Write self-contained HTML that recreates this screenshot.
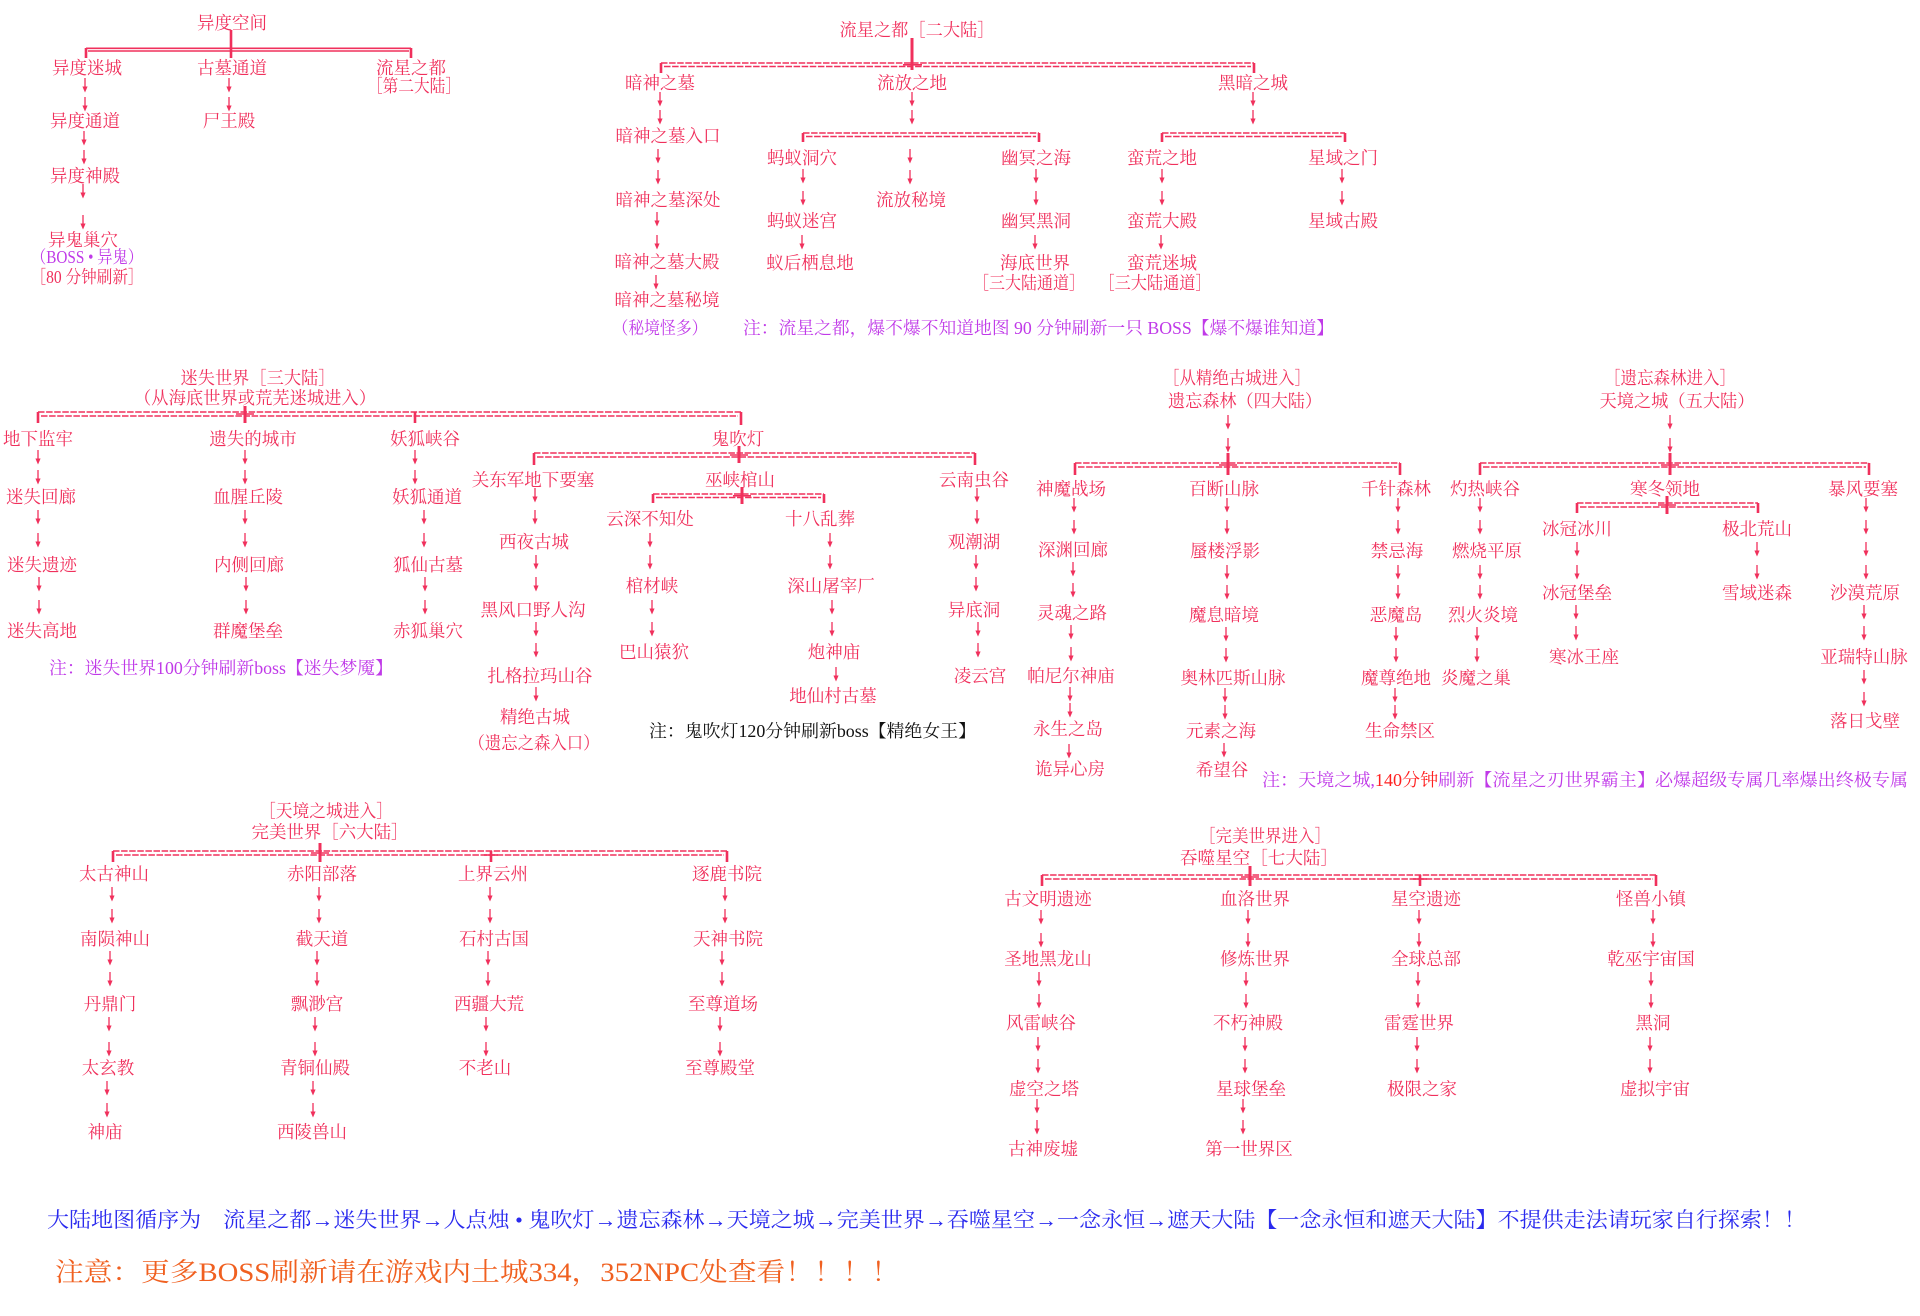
<!DOCTYPE html>
<html>
<head>
<meta charset="utf-8">
<style>
html,body{margin:0;padding:0;background:#fff;}
svg{display:block;}
text{font-family:"Liberation Serif","Noto Serif CJK SC","Noto Sans CJK SC",serif;font-size:17.5px;fill:#f0305c;}
.m{text-anchor:middle;}
.p{fill:#c03ae8;}
.k{fill:#111;}
.h{stroke:#f0305c;stroke-width:1.5;stroke-dasharray:6.5 1.6;fill:none;}
.v{stroke:#f0305c;stroke-width:2.6;fill:none;}
.x{stroke:#f0305c;stroke-width:3;fill:none;}
.s{stroke:#f0305c;stroke-width:1.6;fill:none;}
</style>
</head>
<body>
<svg width="1920" height="1316" viewBox="0 0 1920 1316" xmlns="http://www.w3.org/2000/svg">
<defs>
<g id="a"><line x1="0" y1="0" x2="0" y2="12" stroke="#f0305c" stroke-width="1.3"/><path d="M-2.6,8.5 L0,14.5 L2.6,8.5 Z" fill="#f0305c"/></g>
</defs>

<!-- ============ Section 1 异度空间 ============ -->
<text class="m" x="232" y="29">异度空间</text>
<line class="v" x1="231" y1="30" x2="231" y2="49"/>
<line class="s" x1="86" y1="48.3" x2="411" y2="48.3"/>
<line class="s" x1="88" y1="51" x2="409" y2="51"/>
<line class="v" x1="86" y1="48" x2="86" y2="58"/>
<line class="v" x1="231" y1="48" x2="231" y2="58"/>
<line class="v" x1="411" y1="48" x2="411" y2="58"/>
<text class="m" x="87" y="74">异度迷城</text>
<text class="m" x="232" y="74">古墓通道</text>
<text class="m" x="411" y="74">流星之都</text>
<text class="m" x="414" y="92" textLength="94" lengthAdjust="spacingAndGlyphs">［第二大陆］</text>
<use href="#a" x="85" y="78"/><use href="#a" x="85" y="97"/>
<use href="#a" x="229" y="78"/><use href="#a" x="229" y="97"/>
<text class="m" x="85" y="127">异度通道</text>
<text class="m" x="229" y="127">尸王殿</text>
<use href="#a" x="84" y="131"/><use href="#a" x="84" y="150"/>
<text class="m" x="85" y="182">异度神殿</text>
<use href="#a" x="83" y="184"/><use href="#a" x="83" y="215"/>
<text class="m" x="83" y="246">异鬼巢穴</text>
<text class="m p" x="87" y="263" textLength="112" lengthAdjust="spacingAndGlyphs">（BOSS • 异鬼）</text>
<text class="m" x="87" y="283" textLength="113" lengthAdjust="spacingAndGlyphs">［80 分钟刷新］</text>

<!-- ============ Section 2 流星之都 ============ -->
<text class="m" x="917" y="36" textLength="155" lengthAdjust="spacingAndGlyphs">流星之都［二大陆］</text>
<line class="x" x1="912" y1="38" x2="912" y2="70"/>
<line class="h" x1="661" y1="63" x2="1254" y2="63"/>
<line class="h" x1="664" y1="66.5" x2="1251" y2="66.5"/>
<line class="s" x1="903" y1="64.8" x2="922" y2="64.8"/>
<line class="v" x1="661" y1="63" x2="661" y2="73"/>
<line class="v" x1="1254" y1="63" x2="1254" y2="73"/>
<text class="m" x="660" y="89">暗神之墓</text>
<text class="m" x="912" y="89">流放之地</text>
<text class="m" x="1253" y="89">黑暗之城</text>
<use href="#a" x="660" y="92"/><use href="#a" x="660" y="110"/>
<use href="#a" x="912" y="92"/><use href="#a" x="912" y="110"/>
<use href="#a" x="1253" y="92"/><use href="#a" x="1253" y="110"/>
<text class="m" x="668" y="142">暗神之墓入口</text>
<use href="#a" x="658" y="149"/><use href="#a" x="658" y="170"/>
<text class="m" x="668" y="206">暗神之墓深处</text>
<use href="#a" x="657" y="212"/><use href="#a" x="657" y="235"/>
<text class="m" x="667" y="268">暗神之墓大殿</text>
<use href="#a" x="656" y="275"/>
<text class="m" x="667" y="306">暗神之墓秘境</text>
<text class="m p" x="660" y="334" textLength="95" lengthAdjust="spacingAndGlyphs">（秘境怪多）</text>
<text class="p" x="743" y="334" textLength="591" lengthAdjust="spacingAndGlyphs">注：流星之都，爆不爆不知道地图 90 分钟刷新一只 BOSS【爆不爆谁知道】</text>

<line class="h" x1="803" y1="133" x2="1039" y2="133"/>
<line class="h" x1="806" y1="136.5" x2="1036" y2="136.5"/>
<line class="v" x1="803" y1="133" x2="803" y2="142"/>
<line class="v" x1="1039" y1="133" x2="1039" y2="142"/>
<line class="h" x1="1162" y1="133" x2="1345" y2="133"/>
<line class="h" x1="1165" y1="136.5" x2="1342" y2="136.5"/>
<line class="v" x1="1162" y1="133" x2="1162" y2="142"/>
<line class="v" x1="1345" y1="133" x2="1345" y2="142"/>

<text class="m" x="802" y="164">蚂蚁洞穴</text>
<text class="m" x="1036" y="164">幽冥之海</text>
<text class="m" x="1162" y="164">蛮荒之地</text>
<text class="m" x="1343" y="164">星域之门</text>
<use href="#a" x="910" y="149"/><use href="#a" x="910" y="170"/>
<text class="m" x="911" y="206">流放秘境</text>
<use href="#a" x="803" y="169"/><use href="#a" x="803" y="191"/>
<use href="#a" x="1036" y="169"/><use href="#a" x="1036" y="191"/>
<use href="#a" x="1162" y="169"/><use href="#a" x="1162" y="191"/>
<use href="#a" x="1342" y="169"/><use href="#a" x="1342" y="191"/>
<text class="m" x="802" y="227">蚂蚁迷宫</text>
<text class="m" x="1036" y="227">幽冥黑洞</text>
<text class="m" x="1162" y="227">蛮荒大殿</text>
<text class="m" x="1343" y="227">星域古殿</text>
<use href="#a" x="802" y="235"/>
<use href="#a" x="1035" y="235"/>
<use href="#a" x="1161" y="235"/>
<text class="m" x="810" y="269">蚁后栖息地</text>
<text class="m" x="1035" y="269">海底世界</text>
<text class="m" x="1162" y="269">蛮荒迷城</text>
<text class="m" x="1029" y="289" textLength="112" lengthAdjust="spacingAndGlyphs">［三大陆通道］</text>
<text class="m" x="1155" y="289" textLength="113" lengthAdjust="spacingAndGlyphs">［三大陆通道］</text>

<!-- ============ Section 3 迷失世界 ============ -->
<text class="m" x="258" y="384" textLength="155" lengthAdjust="spacingAndGlyphs">迷失世界［三大陆］</text>
<text class="m" x="255" y="404" textLength="242" lengthAdjust="spacingAndGlyphs">（从海底世界或荒芜迷城进入）</text>
<line class="h" x1="38" y1="412" x2="741" y2="412"/>
<line class="h" x1="41" y1="416" x2="738" y2="416"/>
<line class="x" x1="245" y1="406" x2="245" y2="423"/>
<line class="s" x1="236" y1="414" x2="254" y2="414"/>
<line class="v" x1="38" y1="412" x2="38" y2="423"/>
<line class="v" x1="415" y1="412" x2="415" y2="423"/>
<line class="v" x1="741" y1="412" x2="741" y2="425"/>
<text class="m" x="38" y="445">地下监牢</text>
<text class="m" x="253" y="445">遗失的城市</text>
<text class="m" x="425" y="445">妖狐峡谷</text>
<use href="#a" x="38" y="450"/><use href="#a" x="38" y="470"/>
<use href="#a" x="245" y="450"/><use href="#a" x="245" y="470"/>
<use href="#a" x="415" y="450"/><use href="#a" x="415" y="470"/>
<text class="m" x="41" y="503">迷失回廊</text>
<text class="m" x="248" y="503">血腥丘陵</text>
<text class="m" x="427" y="503">妖狐通道</text>
<use href="#a" x="38" y="510"/><use href="#a" x="38" y="533"/>
<use href="#a" x="245" y="510"/><use href="#a" x="245" y="533"/>
<use href="#a" x="424" y="510"/><use href="#a" x="424" y="533"/>
<text class="m" x="42" y="571">迷失遗迹</text>
<text class="m" x="249" y="571">内侧回廊</text>
<text class="m" x="428" y="571">狐仙古墓</text>
<use href="#a" x="39" y="577"/><use href="#a" x="39" y="600"/>
<use href="#a" x="246" y="577"/><use href="#a" x="246" y="600"/>
<use href="#a" x="425" y="577"/><use href="#a" x="425" y="600"/>
<text class="m" x="42" y="637">迷失高地</text>
<text class="m" x="248" y="637">群魔堡垒</text>
<text class="m" x="428" y="637">赤狐巢穴</text>
<text class="p" x="49" y="674" textLength="344" lengthAdjust="spacingAndGlyphs">注：迷失世界100分钟刷新boss【迷失梦魇】</text>

<!-- ============ Section 4 鬼吹灯 ============ -->
<text class="m" x="738" y="445">鬼吹灯</text>
<line class="h" x1="534" y1="453" x2="975" y2="453"/>
<line class="h" x1="537" y1="457" x2="972" y2="457"/>
<line class="x" x1="739" y1="446" x2="739" y2="463"/>
<line class="s" x1="730" y1="455" x2="748" y2="455"/>
<line class="v" x1="534" y1="453" x2="534" y2="465"/>
<line class="v" x1="975" y1="453" x2="975" y2="465"/>
<text class="m" x="533" y="486">关东军地下要塞</text>
<text class="m" x="740" y="486">巫峡棺山</text>
<text class="m" x="974" y="486">云南虫谷</text>
<line class="h" x1="653" y1="494" x2="824" y2="494"/>
<line class="h" x1="656" y1="497.5" x2="821" y2="497.5"/>
<line class="x" x1="742" y1="487" x2="742" y2="504"/>
<line class="s" x1="733" y1="495.8" x2="751" y2="495.8"/>
<line class="v" x1="653" y1="494" x2="653" y2="503"/>
<line class="v" x1="824" y1="494" x2="824" y2="503"/>
<use href="#a" x="535" y="488"/><use href="#a" x="535" y="510"/>
<use href="#a" x="977" y="488"/><use href="#a" x="977" y="510"/>
<text class="m" x="650" y="525">云深不知处</text>
<text class="m" x="820" y="525">十八乱葬</text>
<use href="#a" x="650" y="533"/><use href="#a" x="650" y="555"/>
<use href="#a" x="830" y="533"/><use href="#a" x="830" y="555"/>
<text class="m" x="534" y="548">西夜古城</text>
<text class="m" x="974" y="548">观潮湖</text>
<use href="#a" x="536" y="555"/><use href="#a" x="536" y="577"/>
<use href="#a" x="976" y="555"/><use href="#a" x="976" y="577"/>
<text class="m" x="652" y="592">棺材峡</text>
<text class="m" x="831" y="592">深山屠宰厂</text>
<use href="#a" x="652" y="600"/><use href="#a" x="652" y="622"/>
<use href="#a" x="832" y="600"/><use href="#a" x="832" y="622"/>
<text class="m" x="533" y="616">黑风口野人沟</text>
<text class="m" x="974" y="616">异底洞</text>
<use href="#a" x="536" y="622"/><use href="#a" x="536" y="643"/>
<use href="#a" x="978" y="622"/><use href="#a" x="978" y="643"/>
<text class="m" x="654" y="658">巴山猿狖</text>
<text class="m" x="834" y="658">炮神庙</text>
<use href="#a" x="836" y="667"/>
<text class="m" x="540" y="682">扎格拉玛山谷</text>
<text class="m" x="980" y="682">凌云宫</text>
<use href="#a" x="536" y="687"/>
<text class="m" x="833" y="702">地仙村古墓</text>
<text class="m" x="535" y="723">精绝古城</text>
<text class="m" x="534" y="749" textLength="131" lengthAdjust="spacingAndGlyphs">（遗忘之森入口）</text>
<text class="k" x="649" y="737" textLength="327" lengthAdjust="spacingAndGlyphs">注：鬼吹灯120分钟刷新boss【精绝女王】</text>

<!-- ============ Section 5 遗忘森林 ============ -->
<text class="m" x="1237" y="384" textLength="148" lengthAdjust="spacingAndGlyphs">［从精绝古城进入］</text>
<text class="m" x="1245" y="407" textLength="154" lengthAdjust="spacingAndGlyphs">遗忘森林（四大陆）</text>
<use href="#a" x="1228" y="415"/><use href="#a" x="1228" y="438"/>
<line class="h" x1="1075" y1="463" x2="1400" y2="463"/>
<line class="h" x1="1078" y1="467" x2="1397" y2="467"/>
<line class="x" x1="1228" y1="453" x2="1228" y2="475"/>
<line class="s" x1="1219" y1="465" x2="1237" y2="465"/>
<line class="v" x1="1075" y1="463" x2="1075" y2="475"/>
<line class="v" x1="1400" y1="463" x2="1400" y2="475"/>
<text class="m" x="1071" y="495">神魔战场</text>
<text class="m" x="1224" y="495">百断山脉</text>
<text class="m" x="1396" y="495">千针森林</text>
<use href="#a" x="1074" y="498"/><use href="#a" x="1074" y="520"/>
<use href="#a" x="1227" y="498"/><use href="#a" x="1227" y="520"/>
<use href="#a" x="1398" y="498"/><use href="#a" x="1398" y="520"/>
<text class="m" x="1073" y="556">深渊回廊</text>
<text class="m" x="1225" y="557">蜃楼浮影</text>
<text class="m" x="1397" y="557">禁忌海</text>
<use href="#a" x="1073" y="562"/><use href="#a" x="1073" y="583"/>
<use href="#a" x="1227" y="565"/><use href="#a" x="1227" y="585"/>
<use href="#a" x="1398" y="565"/><use href="#a" x="1398" y="585"/>
<text class="m" x="1072" y="619">灵魂之路</text>
<text class="m" x="1224" y="621">魔息暗境</text>
<text class="m" x="1396" y="621">恶魔岛</text>
<use href="#a" x="1071" y="625"/><use href="#a" x="1071" y="647"/>
<use href="#a" x="1226" y="627"/><use href="#a" x="1226" y="648"/>
<use href="#a" x="1396" y="627"/><use href="#a" x="1396" y="648"/>
<text class="m" x="1071" y="682">帕尼尔神庙</text>
<text class="m" x="1233" y="684">奥林匹斯山脉</text>
<text class="m" x="1396" y="684">魔尊绝地</text>
<use href="#a" x="1070" y="687"/><use href="#a" x="1070" y="703"/>
<use href="#a" x="1225" y="688"/><use href="#a" x="1225" y="705"/>
<use href="#a" x="1395" y="688"/><use href="#a" x="1395" y="705"/>
<text class="m" x="1068" y="735">永生之岛</text>
<text class="m" x="1221" y="737">元素之海</text>
<text class="m" x="1400" y="737">生命禁区</text>
<use href="#a" x="1069" y="744"/>
<use href="#a" x="1224" y="743"/>
<text class="m" x="1070" y="775">诡异心房</text>
<text class="m" x="1222" y="776">希望谷</text>
<text class="p" x="1262" y="786" textLength="646" lengthAdjust="spacingAndGlyphs">注：天境之城,<tspan fill="#ff2020" style="fill:#ff2020">140分钟</tspan>刷新【流星之刃世界霸主】必爆超级专属几率爆出终极专属</text>

<!-- ============ Section 6 天境之城 ============ -->
<text class="m" x="1670" y="384" textLength="132" lengthAdjust="spacingAndGlyphs">［遗忘森林进入］</text>
<text class="m" x="1677" y="407" textLength="155" lengthAdjust="spacingAndGlyphs">天境之城（五大陆）</text>
<use href="#a" x="1670" y="415"/><use href="#a" x="1670" y="438"/>
<line class="h" x1="1480" y1="463" x2="1869" y2="463"/>
<line class="h" x1="1483" y1="467" x2="1866" y2="467"/>
<line class="x" x1="1670" y1="453" x2="1670" y2="475"/>
<line class="s" x1="1661" y1="465" x2="1679" y2="465"/>
<line class="v" x1="1480" y1="463" x2="1480" y2="475"/>
<line class="v" x1="1869" y1="463" x2="1869" y2="475"/>
<text class="m" x="1485" y="495">灼热峡谷</text>
<text class="m" x="1665" y="495">寒冬领地</text>
<text class="m" x="1863" y="495">暴风要塞</text>
<line class="h" x1="1577" y1="503" x2="1758" y2="503"/>
<line class="h" x1="1580" y1="507" x2="1755" y2="507"/>
<line class="x" x1="1667" y1="496" x2="1667" y2="514"/>
<line class="s" x1="1658" y1="505" x2="1676" y2="505"/>
<line class="v" x1="1577" y1="503" x2="1577" y2="513"/>
<line class="v" x1="1758" y1="503" x2="1758" y2="513"/>
<use href="#a" x="1480" y="498"/><use href="#a" x="1480" y="520"/>
<use href="#a" x="1866" y="498"/><use href="#a" x="1866" y="520"/>
<text class="m" x="1577" y="535">冰冠冰川</text>
<text class="m" x="1757" y="535">极北荒山</text>
<use href="#a" x="1577" y="542"/><use href="#a" x="1577" y="565"/>
<use href="#a" x="1757" y="542"/><use href="#a" x="1757" y="565"/>
<use href="#a" x="1866" y="542"/><use href="#a" x="1866" y="565"/>
<text class="m" x="1487" y="557">燃烧平原</text>
<use href="#a" x="1480" y="565"/><use href="#a" x="1480" y="585"/>
<text class="m" x="1577" y="599">冰冠堡垒</text>
<text class="m" x="1757" y="599">雪域迷森</text>
<text class="m" x="1865" y="599">沙漠荒原</text>
<use href="#a" x="1576" y="605"/><use href="#a" x="1576" y="626"/>
<use href="#a" x="1864" y="605"/><use href="#a" x="1864" y="626"/>
<text class="m" x="1483" y="621">烈火炎境</text>
<use href="#a" x="1477" y="627"/><use href="#a" x="1477" y="648"/>
<text class="m" x="1584" y="663">寒冰王座</text>
<text class="m" x="1864" y="663">亚瑞特山脉</text>
<use href="#a" x="1864" y="670"/><use href="#a" x="1864" y="692"/>
<text class="m" x="1476" y="684">炎魔之巢</text>
<text class="m" x="1865" y="727">落日戈壁</text>

<!-- ============ Section 7 完美世界 ============ -->
<text class="m" x="326" y="817" textLength="134" lengthAdjust="spacingAndGlyphs">［天境之城进入］</text>
<text class="m" x="330" y="838" textLength="157" lengthAdjust="spacingAndGlyphs">完美世界［六大陆］</text>
<line class="h" x1="113" y1="851" x2="727" y2="851"/>
<line class="h" x1="116" y1="855" x2="724" y2="855"/>
<line class="x" x1="320" y1="843" x2="320" y2="862"/>
<line class="s" x1="311" y1="853" x2="329" y2="853"/>
<line class="v" x1="491" y1="851" x2="491" y2="862"/>
<line class="s" x1="484" y1="855" x2="498" y2="855"/>
<line class="v" x1="113" y1="851" x2="113" y2="862"/>
<line class="v" x1="727" y1="851" x2="727" y2="862"/>
<text class="m" x="114" y="880">太古神山</text>
<text class="m" x="322" y="880">赤阳部落</text>
<text class="m" x="493" y="880">上界云州</text>
<text class="m" x="727" y="880">逐鹿书院</text>
<use href="#a" x="112" y="887"/><use href="#a" x="112" y="909"/>
<use href="#a" x="319" y="887"/><use href="#a" x="319" y="909"/>
<use href="#a" x="490" y="887"/><use href="#a" x="490" y="909"/>
<use href="#a" x="725" y="887"/><use href="#a" x="725" y="909"/>
<text class="m" x="115" y="945">南陨神山</text>
<text class="m" x="322" y="945">截天道</text>
<text class="m" x="494" y="945">石村古国</text>
<text class="m" x="728" y="945">天神书院</text>
<use href="#a" x="110" y="951"/><use href="#a" x="110" y="972"/>
<use href="#a" x="317" y="951"/><use href="#a" x="317" y="972"/>
<use href="#a" x="488" y="951"/><use href="#a" x="488" y="972"/>
<use href="#a" x="722" y="951"/><use href="#a" x="722" y="972"/>
<text class="m" x="110" y="1010">丹鼎门</text>
<text class="m" x="317" y="1010">飘渺宫</text>
<text class="m" x="489" y="1010">西疆大荒</text>
<text class="m" x="723" y="1010">至尊道场</text>
<use href="#a" x="109" y="1017"/><use href="#a" x="109" y="1042"/>
<use href="#a" x="315" y="1017"/><use href="#a" x="315" y="1042"/>
<use href="#a" x="486" y="1017"/><use href="#a" x="486" y="1042"/>
<use href="#a" x="720" y="1017"/><use href="#a" x="720" y="1042"/>
<text class="m" x="108" y="1074">太玄教</text>
<text class="m" x="315" y="1074">青铜仙殿</text>
<text class="m" x="485" y="1074">不老山</text>
<text class="m" x="720" y="1074">至尊殿堂</text>
<use href="#a" x="107" y="1081"/><use href="#a" x="107" y="1103"/>
<use href="#a" x="313" y="1081"/><use href="#a" x="313" y="1103"/>
<text class="m" x="105" y="1138">神庙</text>
<text class="m" x="312" y="1138">西陵兽山</text>

<!-- ============ Section 8 吞噬星空 ============ -->
<text class="m" x="1265" y="842" textLength="132" lengthAdjust="spacingAndGlyphs">［完美世界进入］</text>
<text class="m" x="1259" y="864" textLength="158" lengthAdjust="spacingAndGlyphs">吞噬星空［七大陆］</text>
<line class="h" x1="1042" y1="875" x2="1656" y2="875"/>
<line class="h" x1="1045" y1="879" x2="1653" y2="879"/>
<line class="x" x1="1250" y1="866" x2="1250" y2="886"/>
<line class="s" x1="1241" y1="877" x2="1259" y2="877"/>
<line class="v" x1="1420" y1="875" x2="1420" y2="886"/>
<line class="s" x1="1413" y1="879" x2="1427" y2="879"/>
<line class="v" x1="1042" y1="875" x2="1042" y2="886"/>
<line class="v" x1="1656" y1="875" x2="1656" y2="886"/>
<text class="m" x="1048" y="905">古文明遗迹</text>
<text class="m" x="1255" y="905">血洛世界</text>
<text class="m" x="1426" y="905">星空遗迹</text>
<text class="m" x="1651" y="905">怪兽小镇</text>
<use href="#a" x="1041" y="910"/><use href="#a" x="1041" y="933"/>
<use href="#a" x="1248" y="910"/><use href="#a" x="1248" y="933"/>
<use href="#a" x="1419" y="910"/><use href="#a" x="1419" y="933"/>
<use href="#a" x="1653" y="910"/><use href="#a" x="1653" y="933"/>
<text class="m" x="1048" y="965">圣地黑龙山</text>
<text class="m" x="1255" y="965">修炼世界</text>
<text class="m" x="1426" y="965">全球总部</text>
<text class="m" x="1651" y="965">乾巫宇宙国</text>
<use href="#a" x="1039" y="972"/><use href="#a" x="1039" y="994"/>
<use href="#a" x="1246" y="972"/><use href="#a" x="1246" y="994"/>
<use href="#a" x="1418" y="972"/><use href="#a" x="1418" y="994"/>
<use href="#a" x="1651" y="972"/><use href="#a" x="1651" y="994"/>
<text class="m" x="1041" y="1029">风雷峡谷</text>
<text class="m" x="1248" y="1029">不朽神殿</text>
<text class="m" x="1419" y="1029">雷霆世界</text>
<text class="m" x="1653" y="1029">黑洞</text>
<use href="#a" x="1038" y="1037"/><use href="#a" x="1038" y="1059"/>
<use href="#a" x="1245" y="1037"/><use href="#a" x="1245" y="1059"/>
<use href="#a" x="1417" y="1037"/><use href="#a" x="1417" y="1059"/>
<use href="#a" x="1650" y="1037"/><use href="#a" x="1650" y="1059"/>
<text class="m" x="1044" y="1095">虚空之塔</text>
<text class="m" x="1251" y="1095">星球堡垒</text>
<text class="m" x="1422" y="1095">极限之家</text>
<text class="m" x="1655" y="1095">虚拟宇宙</text>
<use href="#a" x="1037" y="1099"/><use href="#a" x="1037" y="1120"/>
<use href="#a" x="1243" y="1099"/><use href="#a" x="1243" y="1120"/>
<text class="m" x="1043" y="1155">古神废墟</text>
<text class="m" x="1249" y="1155">第一世界区</text>

<!-- ============ Bottom notes ============ -->
<text x="47" y="1227" style="font-size:21px;fill:#2a2aee" textLength="1759" lengthAdjust="spacingAndGlyphs">大陆地图循序为　流星之都→迷失世界→人点烛 • 鬼吹灯→遗忘森林→天境之城→完美世界→吞噬星空→一念永恒→遮天大陆【一念永恒和遮天大陆】不提供走法请玩家自行探索！！</text>
<text x="55" y="1281" style="font-size:26px;fill:#f06020" textLength="845" lengthAdjust="spacingAndGlyphs">注意：更多BOSS刷新请在游戏内土城334，352NPC处查看！！！！</text>
</svg>
</body>
</html>
